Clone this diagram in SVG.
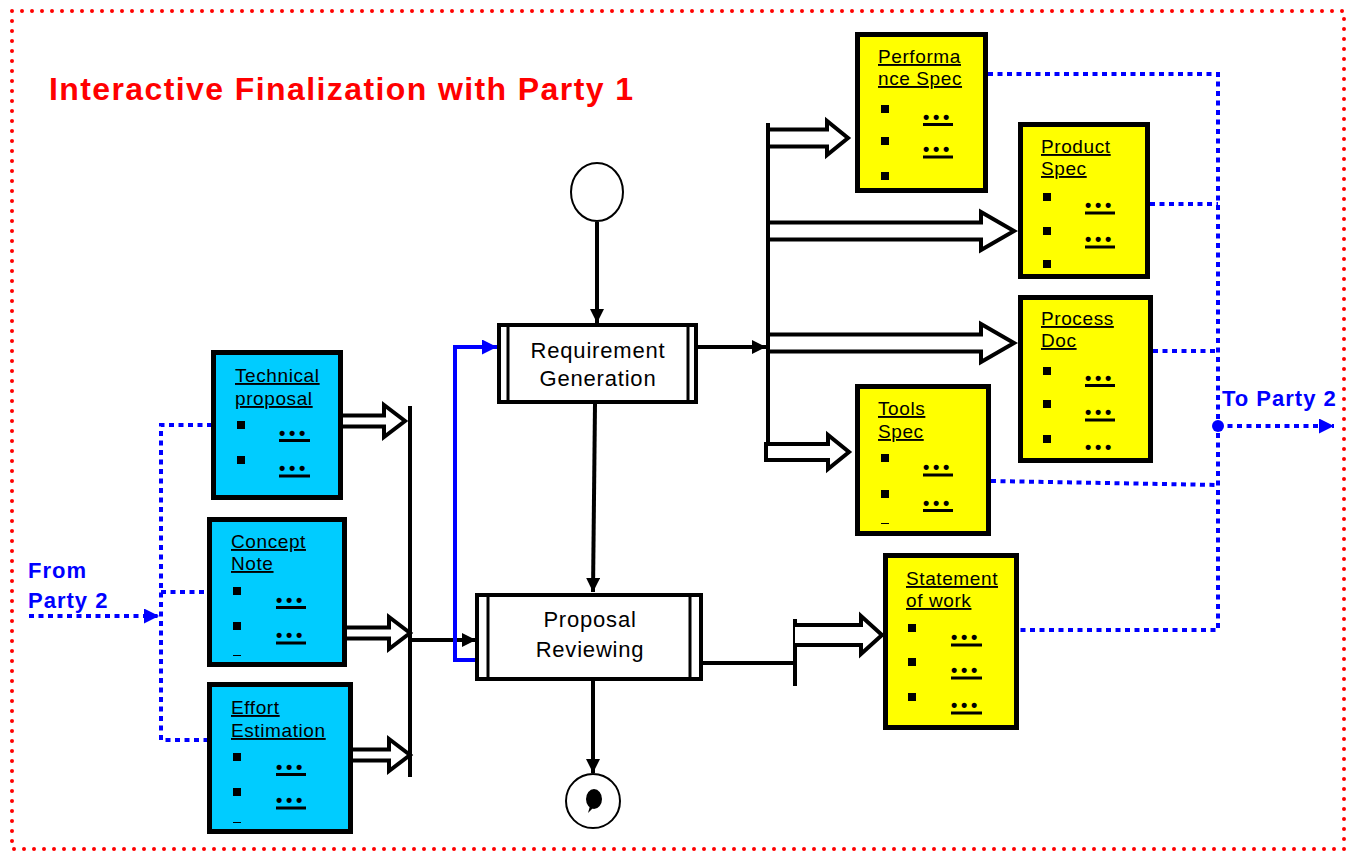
<svg xmlns="http://www.w3.org/2000/svg" width="1348" height="854" viewBox="0 0 1348 854">
  <defs>
    <style>
      .frame { fill: none; stroke: #ff0000; stroke-width: 4; stroke-linecap: round; stroke-dasharray: 0 10; }
      .title { font-family: "Liberation Sans", Arial, sans-serif; font-weight: bold; font-size: 32px; fill: #ff0000; }
      .party { font-family: "Liberation Sans", Arial, sans-serif; font-weight: bold; font-size: 22px; fill: #0000ff; letter-spacing: 1px; }
      .doc-blue { fill: #00ccff; stroke: #000; stroke-width: 5; }
      .doc-yellow { fill: #ffff00; stroke: #000; stroke-width: 5; }
      .label { font-family: "Liberation Sans", Arial, sans-serif; font-size: 19px; fill: #000; text-decoration: underline; letter-spacing: 0.6px; }
      .dots { font-family: "Liberation Sans", Arial, sans-serif; font-weight: bold; font-size: 18px; fill: #000; letter-spacing: 3.7px; }
      .uline { stroke: #000; stroke-width: 3; }
      .dash { stroke: #000; stroke-width: 1; }
      .activity { fill: #fff; stroke: #000; stroke-width: 4; }
      .inner { stroke: #000; stroke-width: 3; }
      .act-text { font-family: "Liberation Sans", Arial, sans-serif; font-size: 22px; fill: #000; text-anchor: middle; letter-spacing: 0.8px; }
      .flow { fill: none; stroke: #000; stroke-width: 4; }
      .bar { fill: none; stroke: #000; stroke-width: 4; }
      .hollow { fill: #fff; stroke: #000; stroke-width: 4; stroke-linejoin: miter; }
      .ctrl { fill: none; stroke: #0000ff; stroke-width: 4; }
      .info { fill: none; stroke: #0000ff; stroke-width: 4; stroke-dasharray: 5 4.5; }
    </style>
    <marker id="ah" viewBox="0 0 10 10" refX="10" refY="5" markerWidth="14" markerHeight="14" markerUnits="userSpaceOnUse" orient="auto">
      <path d="M0,0 L10,5 L0,10 Z" fill="#000"/>
    </marker>
    <marker id="ah-blue" viewBox="0 0 10 10" refX="10" refY="5" markerWidth="15" markerHeight="15" markerUnits="userSpaceOnUse" orient="auto">
      <path d="M0,0 L10,5 L0,10 Z" fill="#0000ff"/>
    </marker>
  </defs>

  <rect width="1348" height="854" fill="#fff"/>

  <!-- dotted outer frame and title -->
  <rect class="frame" x="12" y="11" width="1332" height="838"/>
  <text class="title" x="49" y="100" textLength="584" lengthAdjust="spacing">Interactive Finalization with Party 1</text>

  <!-- connectors -->
  <g id="connectors">
    <!-- information flows (dotted blue) -->
    <path class="info" d="M212,425 H161 V740 H207"/>
    <path class="info" d="M161,592 H207"/>
    <path class="info" d="M29,616 H159" marker-end="url(#ah-blue)"/>
    <path class="info" d="M988,74 H1218 V630 H1019"/>
    <path class="info" d="M1150,204 H1218"/>
    <path class="info" d="M1153,351 H1218"/>
    <path class="info" d="M991,481 L1218,485"/>
    <path class="info" d="M1218,426 H1334" marker-end="url(#ah-blue)"/>
    <circle cx="1218" cy="426" r="6" fill="#0000ff"/>

    <!-- control flow -->
    <line class="flow" x1="597" y1="222" x2="597" y2="323" marker-end="url(#ah)"/>
    <line class="flow" x1="595" y1="404" x2="593" y2="592" marker-end="url(#ah)"/>
    <line class="flow" x1="593" y1="681" x2="593" y2="773" marker-end="url(#ah)"/>
    <line class="flow" x1="412" y1="640" x2="476" y2="640" marker-end="url(#ah)"/>
    <line class="flow" x1="698" y1="347" x2="766" y2="347" marker-end="url(#ah)"/>
    <line class="flow" x1="703" y1="663" x2="795" y2="663"/>
    <path class="ctrl" d="M475,660 H455 V347 H497" marker-end="url(#ah-blue)"/>

    <!-- synchronisation bars -->
    <line class="bar" x1="410" y1="406" x2="410" y2="777"/>
    <line class="bar" x1="768" y1="123" x2="768" y2="452"/>
    <line class="bar" x1="795" y1="619" x2="795" y2="686"/>

    <!-- hollow object-flow arrows -->
    <path class="hollow" d="M343,415.5 H384 V405 L405,421 L384,437 V426.5 H343"/>
    <path class="hollow" d="M347,627.5 H389 V617 L410,633 L389,649 V638.5 H347"/>
    <path class="hollow" d="M353,749.5 H389 V739 L410,755 L389,771 V760.5 H353"/>
    <path class="hollow" d="M768,129.5 H827 V121 L848,138 L827,155 V146.5 H768 Z"/>
    <path class="hollow" d="M768,222.5 H981 V212 L1014,231 L981,250 V239.5 H768 Z"/>
    <path class="hollow" d="M768,334.5 H981 V324 L1014,343 L981,362 V351.5 H768 Z"/>
    <path class="hollow" d="M766,444 H828 V435 L849,452 L828,469 V460 H766 Z"/>
    <path class="hollow" d="M795,625 H861 V616 L882,635 L861,654 V645 H795"/>
  </g>

  <!-- start and end nodes -->
  <g id="start">
    <ellipse cx="597" cy="192" rx="26" ry="29" fill="#fff" stroke="#000" stroke-width="2"/>
  </g>
  <g id="end">
    <circle cx="593" cy="801" r="27" fill="#fff" stroke="#000" stroke-width="2"/>
    <ellipse cx="594" cy="799" rx="8" ry="10" fill="#000"/>
    <path d="M590,806 L588,813 L593,808 Z" fill="#000"/>
  </g>

  <!-- activities -->
  <g id="requirement-generation">
    <rect class="activity" x="499" y="325" width="197" height="77"/>
    <line class="inner" x1="508" y1="325" x2="508" y2="402"/>
    <line class="inner" x1="688" y1="325" x2="688" y2="402"/>
    <text class="act-text" x="598" y="358">Requirement</text>
    <text class="act-text" x="598" y="386">Generation</text>
  </g>
  <g id="proposal-reviewing">
    <rect class="activity" x="477" y="595" width="224" height="84"/>
    <line class="inner" x1="488" y1="595" x2="488" y2="679"/>
    <line class="inner" x1="690" y1="595" x2="690" y2="679"/>
    <text class="act-text" x="590" y="627">Proposal</text>
    <text class="act-text" x="590" y="657">Reviewing</text>
  </g>

  <!-- inputs from Party 2 -->
  <g id="technical-proposal">
    <rect class="doc-blue" x="213.5" y="352.5" width="127" height="145"/>
    <text class="label" x="235" y="382">Technical</text>
    <text class="label" x="235" y="405">proposal</text>
    <rect x="237" y="421" width="8" height="8"/>
    <rect x="237" y="456" width="8" height="8"/>
    <text class="dots" x="279" y="439">•••</text>
    <line class="uline" x1="279" y1="440.5" x2="310" y2="440.5"/>
    <text class="dots" x="279" y="474">•••</text>
    <line class="uline" x1="279" y1="476" x2="310" y2="476"/>
  </g>
  <g id="concept-note">
    <rect class="doc-blue" x="209.5" y="519.5" width="135" height="145"/>
    <text class="label" x="231" y="548">Concept</text>
    <text class="label" x="231" y="570">Note</text>
    <rect x="233" y="587" width="8" height="8"/>
    <rect x="233" y="622" width="8" height="8"/>
    <line class="dash" x1="233" y1="655.5" x2="241" y2="655.5"/>
    <text class="dots" x="276" y="606">•••</text>
    <line class="uline" x1="276" y1="607.5" x2="306" y2="607.5"/>
    <text class="dots" x="276" y="641">•••</text>
    <line class="uline" x1="276" y1="643" x2="306" y2="643"/>
  </g>
  <g id="effort-estimation">
    <rect class="doc-blue" x="209.5" y="684.5" width="141" height="147"/>
    <text class="label" x="231" y="714">Effort</text>
    <text class="label" x="231" y="737">Estimation</text>
    <rect x="233" y="753" width="8" height="8"/>
    <rect x="233" y="788" width="8" height="8"/>
    <line class="dash" x1="233" y1="822.5" x2="241" y2="822.5"/>
    <text class="dots" x="276" y="773">•••</text>
    <line class="uline" x1="276" y1="774.5" x2="306" y2="774.5"/>
    <text class="dots" x="276" y="806">•••</text>
    <line class="uline" x1="276" y1="808" x2="306" y2="808"/>
  </g>

  <!-- outputs to Party 2 -->
  <g id="performance-spec">
    <rect class="doc-yellow" x="857.5" y="34.5" width="128" height="156"/>
    <text class="label" x="878" y="63">Performa</text>
    <text class="label" x="878" y="85">nce Spec</text>
    <rect x="881" y="105" width="8" height="8"/>
    <rect x="881" y="137" width="8" height="8"/>
    <rect x="881" y="172" width="8" height="8"/>
    <text class="dots" x="923" y="123">•••</text>
    <line class="uline" x1="923" y1="124.5" x2="953" y2="124.5"/>
    <text class="dots" x="923" y="155">•••</text>
    <line class="uline" x1="923" y1="157" x2="953" y2="157"/>
  </g>
  <g id="product-spec">
    <rect class="doc-yellow" x="1020.5" y="124.5" width="127" height="152"/>
    <text class="label" x="1041" y="153">Product</text>
    <text class="label" x="1041" y="175">Spec</text>
    <rect x="1043" y="193" width="8" height="8"/>
    <rect x="1043" y="227" width="8" height="8"/>
    <rect x="1043" y="260" width="8" height="8"/>
    <text class="dots" x="1085" y="211">•••</text>
    <line class="uline" x1="1085" y1="213" x2="1115" y2="213"/>
    <text class="dots" x="1085" y="245">•••</text>
    <line class="uline" x1="1085" y1="247" x2="1115" y2="247"/>
  </g>
  <g id="process-doc">
    <rect class="doc-yellow" x="1020.5" y="297.5" width="130" height="163"/>
    <text class="label" x="1041" y="325">Process</text>
    <text class="label" x="1041" y="347">Doc</text>
    <rect x="1043" y="367" width="8" height="8"/>
    <rect x="1043" y="400" width="8" height="8"/>
    <rect x="1043" y="435" width="8" height="8"/>
    <text class="dots" x="1085" y="384">•••</text>
    <line class="uline" x1="1085" y1="385.5" x2="1115" y2="385.5"/>
    <text class="dots" x="1085" y="418">•••</text>
    <line class="uline" x1="1085" y1="420" x2="1115" y2="420"/>
    <text class="dots" x="1085" y="453">•••</text>
  </g>
  <g id="tools-spec">
    <rect class="doc-yellow" x="857.5" y="386.5" width="131" height="147"/>
    <text class="label" x="878" y="415">Tools</text>
    <text class="label" x="878" y="438">Spec</text>
    <rect x="881" y="454" width="8" height="8"/>
    <rect x="881" y="490" width="8" height="8"/>
    <line class="dash" x1="881" y1="523.5" x2="889" y2="523.5"/>
    <text class="dots" x="923" y="473">•••</text>
    <line class="uline" x1="923" y1="475" x2="953" y2="475"/>
    <text class="dots" x="923" y="509">•••</text>
    <line class="uline" x1="923" y1="510.5" x2="953" y2="510.5"/>
  </g>
  <g id="statement-of-work">
    <rect class="doc-yellow" x="885.5" y="555.5" width="131" height="172"/>
    <text class="label" x="906" y="585">Statement</text>
    <text class="label" x="906" y="607">of work</text>
    <rect x="908" y="624" width="8" height="8"/>
    <rect x="908" y="658" width="8" height="8"/>
    <rect x="908" y="693" width="8" height="8"/>
    <text class="dots" x="951" y="643">•••</text>
    <line class="uline" x1="951" y1="645" x2="982" y2="645"/>
    <text class="dots" x="951" y="676">•••</text>
    <line class="uline" x1="951" y1="678" x2="982" y2="678"/>
    <text class="dots" x="951" y="711">•••</text>
    <line class="uline" x1="951" y1="713" x2="982" y2="713"/>
  </g>

  <!-- party labels -->
  <g id="from-party-2">
    <text class="party" x="28" y="578">From</text>
    <text class="party" x="28" y="608">Party 2</text>
  </g>
  <g id="to-party-2">
    <text class="party" x="1222" y="406">To Party 2</text>
  </g>
</svg>
